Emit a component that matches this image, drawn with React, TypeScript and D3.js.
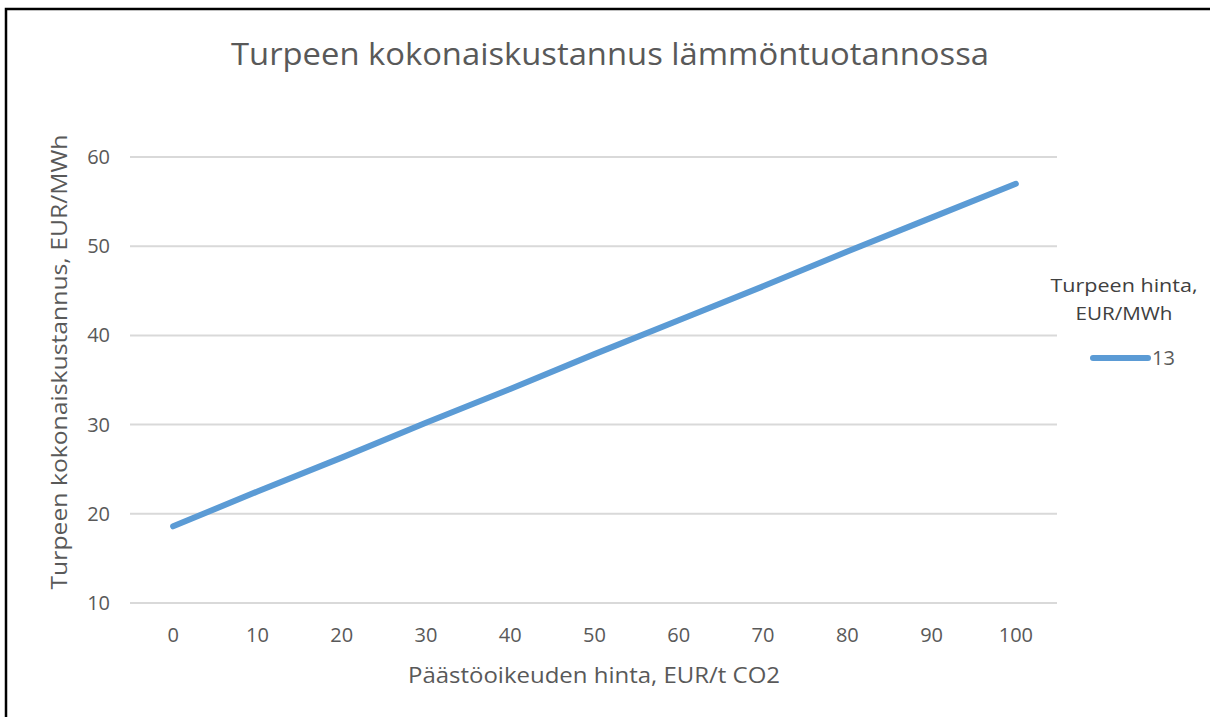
import React from "react";
import * as d3 from "d3";

const categories = ["0", "10", "20", "30", "40", "50", "60", "70", "80", "90", "100"];
const values = [18.6, 22.5, 26.3, 30.2, 34.0, 37.9, 41.7, 45.5, 49.4, 53.2, 57.0];
const yTicks = [10, 20, 30, 40, 50, 60];
const seriesName = "13";
const title = "Turpeen kokonaiskustannus lämmöntuotannossa";
const xTitle = "Päästöoikeuden hinta, EUR/t CO2";
const yTitle = "Turpeen kokonaiskustannus, EUR/MWh";
const legendTitle = ["Turpeen hinta,", "EUR/MWh"];

const W = 1210;
const H = 717;
const FONT = "'Open Sans', 'Liberation Sans', sans-serif";
const GREY = "#595959";
const BLUE = "#5B9BD5";

export default function App() {
  const left = 131, right = 1058, top = 157, bottom = 603;
  const x = d3.scaleBand<string>().domain(categories).range([left, right]);
  const y = d3.scaleLinear().domain([10, 60]).range([bottom, top]);
  const line = d3
    .line<number>()
    .x((_, i) => (x(categories[i]) as number) + x.bandwidth() / 2)
    .y((d) => y(d));

  return (
    <svg
      width={W}
      height={H}
      style={{ position: "absolute", left: 0, top: 0, background: "#fff" }}
      fontFamily={FONT}
    >
      <rect x={0} y={0} width={W} height={H} fill="#fff" />
      <rect x={6} y={9} width={W + 20} height={H + 20} fill="none" stroke="#000" strokeWidth={2.5} />
      <text x={610} y={65} textAnchor="middle" fontSize={30.5} fill={GREY} textLength={758} lengthAdjust="spacingAndGlyphs">
        {title}
      </text>
      {yTicks.map((t) => (
        <g key={t}>
          <line x1={left - 1} x2={right - 1} y1={y(t)} y2={y(t)} stroke="#d9d9d9" strokeWidth={2} />
          <text x={110} y={y(t)} dy="0.35em" textAnchor="end" fontSize={20} fill={GREY}>
            {t}
          </text>
        </g>
      ))}
      {categories.map((c) => (
        <text
          key={c}
          x={(x(c) as number) + x.bandwidth() / 2}
          y={635}
          dy="0.35em"
          textAnchor="middle"
          fontSize={20}
          fill={GREY}
        >
          {c}
        </text>
      ))}
      <path d={line(values) ?? ""} fill="none" stroke={BLUE} strokeWidth={6} strokeLinecap="round" strokeLinejoin="round" />
      <text x={594} y={683} textAnchor="middle" fontSize={21} fill={GREY} textLength={372} lengthAdjust="spacingAndGlyphs">
        {xTitle}
      </text>
      <text
        transform={`translate(67, ${362}) rotate(-90)`}
        textAnchor="middle"
        fontSize={21}
        fill={GREY}
        textLength={455}
        lengthAdjust="spacingAndGlyphs"
      >
        {yTitle}
      </text>
      <text x={1124} y={292} textAnchor="middle" fontSize={19} fill="#404040" textLength={147} lengthAdjust="spacingAndGlyphs">
        {legendTitle[0]}
      </text>
      <text x={1124} y={320} textAnchor="middle" fontSize={19} fill="#404040" textLength={97} lengthAdjust="spacingAndGlyphs">
        {legendTitle[1]}
      </text>
      <line x1={1093} x2={1148} y1={358} y2={358} stroke={BLUE} strokeWidth={6} strokeLinecap="round" />
      <text x={1152} y={358} dy="0.35em" fontSize={20} fill={GREY}>
        {seriesName}
      </text>
    </svg>
  );
}
